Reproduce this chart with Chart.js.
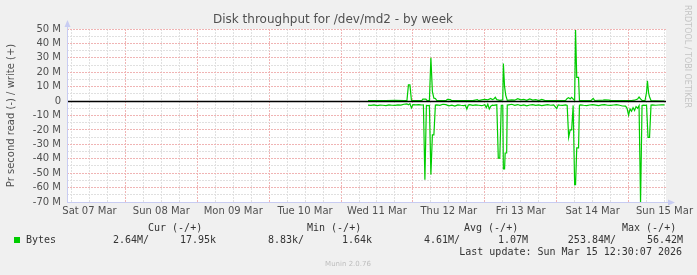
<!DOCTYPE html>
<html>
<head>
<meta charset="utf-8">
<script src="https://cdn.jsdelivr.net/npm/chart.js@4.4.1/dist/chart.umd.min.js"></script>
<style>
  html, body { margin: 0; padding: 0; background: #f0f0f0; }
  canvas { display: block; }
</style>
</head>
<body>
<canvas id="chart" width="697" height="275"></canvas>
<script>
// hours since Sat 07 Mar 00:00, values in MB/s
const dayLabels = ['Sat 07 Mar', 'Sun 08 Mar', 'Mon 09 Mar', 'Tue 10 Mar', 'Wed 11 Mar',
                   'Thu 12 Mar', 'Fri 13 Mar', 'Sat 14 Mar', 'Sun 15 Mar'];
const dayNoonHours = [12, 36, 60, 84, 108, 132, 156, 180, 204];
const yTickValues = [-70, -65, -60, -55, -50, -45, -40, -35, -30, -25, -20, -15, -10, -5,
                     0, 5, 10, 15, 20, 25, 30, 35, 40, 45, 50];

// read (drawn negative)
const readHours = [
  105, 106, 107, 108, 109, 110, 111, 112, 113, 114, 115, 116, 117, 118, 118.5, 119, 119.5, 120, 121, 122, 123, 123.5,
  124, 124.5, 125, 125.5, 126, 126.5, 127, 127.5,
  128, 129, 130, 131, 132, 133, 134, 135, 136, 137, 137.5, 138, 138.5, 139, 140, 141, 142, 143, 144, 144.5, 145, 145.5, 146, 146.5, 147, 148,
  148.5, 149, 149.5, 150, 150.2, 150.6, 150.8, 151.3, 151.5,
  152, 153, 154, 155, 156, 157, 158, 159, 160, 161, 162, 163, 164, 165, 166, 167, 168, 168.5, 169, 170, 171, 171.5,
  172, 172.5, 173, 173.5, 174, 174.3, 174.7, 175.3, 175.6,
  176, 177, 178, 179, 180, 181, 182, 183, 184, 185, 186, 187, 188, 189, 190, 191, 191.5, 192, 192.5, 193, 193.5, 194, 194.5, 195, 195.5,
  196, 196.5, 197, 197.5, 198, 198.5, 199, 199.5, 200, 201, 202, 203, 204
];
const readMB = [
  -2.8, -3.0, -2.7, -3.1, -2.8, -2.9, -3.2, -2.7, -2.9, -3.0, -2.6, -2.8, -2.2, -2.0, -2.5, -1.8, -4.8, -2.5, -2.6, -2.4, -2.7, -2.6,
  -54.5, -3.0, -3.2, -3.0, -51, -23.5, -23.5, -2.8,
  -2.6, -3.0, -2.2, -2.5, -3.3, -2.8, -3.5, -2.6, -2.9, -3.1, -2.9, -5.5, -2.7, -2.5, -3.0, -2.6, -2.9, -3.2, -2.5, -4.5, -2.2, -5.5, -3.5, -2.8, -3.0, -2.6,
  -39.5, -39.5, -3.0, -3.0, -47, -47, -36, -36, -2.8,
  -2.6, -2.2, -2.9, -2.4, -3.1, -2.6, -3.3, -2.7, -2.5, -3.0, -2.6, -3.2, -2.8, -2.5, -2.9, -2.7, -5.2, -2.6, -2.8, -3.0, -2.7, -3.0,
  -25.2, -20, -20, -3.0, -58, -58, -32.4, -32.4, -2.8,
  -2.6, -2.9, -3.1, -2.7, -2.5, -2.8, -3.2, -2.6, -2.4, -2.9, -3.0, -2.7, -2.5, -2.9, -3.4, -3.5, -5.0, -9.7, -5.5, -7.0, -4.5, -6.5, -3.8, -5.0, -3.2,
  -70.5, -3.0, -2.8, -3.0, -2.9, -25.2, -25.2, -2.8, -2.6, -2.9, -2.7, -2.6, -2.64
];

// write (drawn positive)
const writeHours = [
  105, 108, 111, 114, 117, 118, 118.5, 119, 119.5, 120, 121, 123, 123.3, 124.3, 124.7, 125, 125.5, 126, 126.5, 127, 127.5, 128,
  131, 131.5, 132.5, 133, 137, 140, 141.5, 142, 143, 144, 145, 146, 146.5, 147, 147.5, 148, 149, 150, 150.2, 150.6, 151, 151.5,
  153, 154, 155, 156, 157, 158, 159, 160, 161, 162, 163, 164, 165, 167, 169, 171, 171.5, 172, 172.5, 173, 173.5, 174, 174.3, 174.7, 175.3, 175.6,
  177, 179.5, 180.2, 180.7, 183.5, 184, 185.5, 186, 189, 193, 194, 195, 195.5, 196, 196.5, 197.5, 198, 198.3, 198.7, 199, 199.5, 201, 204
];
const writeMB = [
  0.3, 0.4, 0.3, 0.5, 0.3, 0.3, 11.2, 11.2, 0.5, 0.3, 0.4, 0.4, 1.4, 1.4, 0.4, 0.3, 0.4, 30, 6.5, 2.0, 1.8, 0.3,
  0.3, 1.2, 1.0, 0.3, 0.4, 0.3, 1.0, 0.3, 0.8, 1.2, 0.9, 1.8, 1.0, 1.5, 2.6, 1.0, 0.5, 0.8, 26, 10, 4, 0.5,
  0.9, 0.6, 1.6, 0.8, 1.2, 0.5, 1.5, 0.7, 1.0, 0.4, 1.2, 0.5, 0.3, 0.4, 0.3, 0.5, 1.8, 2.4, 1.5, 2.6, 1.4, 0.5, 49.3, 16.4, 16.4, 0.3,
  0.3, 0.4, 1.9, 0.4, 0.7, 0.8, 0.7, 0.3, 0.4, 0.4, 0.6, 1.4, 2.8, 1.5, 0.4, 0.4, 6, 14, 5.5, 3, 0.3, 0.2, 0.05
];

const legendHeaders = ['Cur (-/+)', 'Min (-/+)', 'Avg (-/+)', 'Max (-/+)'];
const legendValues = ['2.64M/', '17.95k', '8.83k/', '1.64k', '4.61M/', '1.07M', '253.84M/', '56.42M'];
const lastUpdate = 'Last update: Sun Mar 15 12:30:07 2026';

const GREEN = '#00cc00';
const TEXT = '#505050';
const RED_GRID = '#f0b4b4';
const GREY_GRID = '#e0e0e0';

Chart.defaults.font.family = '"DejaVu Sans", sans-serif';

function gridColor(c, step) {
  const v = c.tick ? c.tick.value : 1;
  return Math.abs(v % step) < 1e-6 ? RED_GRID : GREY_GRID;
}

// frame, zero line, axis arrows, legend text
const muninFrame = {
  id: 'muninFrame',
  beforeDraw(chart) {
    const { ctx, chartArea: a } = chart;
    ctx.save();
    ctx.fillStyle = '#f0f0f0';
    ctx.fillRect(0, 0, chart.width, chart.height);
    ctx.fillStyle = '#ffffff';
    ctx.fillRect(a.left, a.top, a.right - a.left, a.bottom - a.top);
    ctx.restore();
  },
  afterDatasetsDraw(chart) {
    const { ctx, chartArea: a } = chart;
    const y0 = Math.round(chart.scales.y.getPixelForValue(0));
    ctx.save();
    ctx.strokeStyle = '#000';
    ctx.lineWidth = 1.5;
    ctx.beginPath();
    ctx.moveTo(a.left, y0 + 0.5);
    ctx.lineTo(a.right, y0 + 0.5);
    ctx.stroke();
    ctx.restore();
  },
  afterDraw(chart) {
    const { ctx, chartArea: a } = chart;
    ctx.save();
    // axes with arrows
    ctx.strokeStyle = '#c8ccf2';
    ctx.fillStyle = '#c8ccf2';
    ctx.lineWidth = 1;
    ctx.beginPath();
    ctx.moveTo(a.left + 0.5, a.bottom);
    ctx.lineTo(a.left + 0.5, a.top - 4);
    ctx.moveTo(a.left, a.bottom + 0.5);
    ctx.lineTo(a.right + 4, a.bottom + 0.5);
    ctx.stroke();
    ctx.beginPath();
    ctx.moveTo(a.left + 0.5, a.top - 9);
    ctx.lineTo(a.left - 2.5, a.top - 2);
    ctx.lineTo(a.left + 3.5, a.top - 2);
    ctx.closePath();
    ctx.fill();
    ctx.beginPath();
    ctx.moveTo(a.right + 9, a.bottom + 0.5);
    ctx.lineTo(a.right + 2, a.bottom - 2.5);
    ctx.lineTo(a.right + 2, a.bottom + 3.5);
    ctx.closePath();
    ctx.fill();

    // rrdtool credit
    ctx.translate(687, 5);
    ctx.rotate(Math.PI / 2);
    ctx.font = '8px "DejaVu Sans"';
    ctx.fillStyle = '#c4c4c4';
    ctx.textBaseline = 'middle';
    ctx.textAlign = 'left';
    ctx.fillText('RRDTOOL / TOBI OETIKER', 0, 0);
    ctx.restore();

    // legend
    ctx.save();
    ctx.font = '10px "DejaVu Sans Mono"';
    ctx.fillStyle = '#333';
    ctx.textBaseline = 'middle';
    const headerX = [148, 307, 464, 622];
    legendHeaders.forEach((h, i) => ctx.fillText(h, headerX[i], 228));
    ctx.fillStyle = GREEN;
    ctx.fillRect(14, 237, 6, 6);
    ctx.fillStyle = '#333';
    ctx.fillText('Bytes', 26, 240);
    ctx.textAlign = 'right';
    const valueRight = [149, 216, 304, 372, 460, 528, 616, 683];
    legendValues.forEach((v, i) => ctx.fillText(v, valueRight[i], 240));
    ctx.fillText(lastUpdate, 682, 252);
    ctx.textAlign = 'center';
    ctx.font = '7px "DejaVu Sans"';
    ctx.fillStyle = '#bdbdbd';
    ctx.fillText('Munin 2.0.76', 348, 264);
    ctx.restore();
  }
};

const ctx = document.getElementById('chart').getContext('2d');
new Chart(ctx, {
  type: 'line',
  data: {
    datasets: [
      {
        label: 'read',
        data: readHours.map((h, i) => ({ x: h, y: readMB[i] })),
        borderColor: GREEN,
        borderWidth: 1.2,
        pointRadius: 0,
        tension: 0,
        fill: false
      },
      {
        label: 'write',
        data: writeHours.map((h, i) => ({ x: h, y: writeMB[i] })),
        borderColor: GREEN,
        borderWidth: 1.2,
        pointRadius: 0,
        tension: 0,
        fill: false
      }
    ]
  },
  options: {
    responsive: false,
    devicePixelRatio: 1,
    animation: false,
    layout: { padding: { left: 0, right: 31, top: 0, bottom: 0 } },
    plugins: {
      legend: { display: false },
      tooltip: { enabled: false },
      title: {
        display: true,
        text: 'Disk throughput for /dev/md2 - by week',
        color: TEXT,
        font: { size: 12, weight: 'normal' },
        padding: { top: 13, bottom: 1.6 }
      }
    },
    scales: {
      x: {
        type: 'linear',
        min: 4.5,
        max: 204.5,
        afterBuildTicks: s => {
          const t = [];
          for (let h = 6; h <= 204; h += 6) t.push({ value: h });
          s.ticks = t;
        },
        afterFit: s => { s.height = 73; },
        ticks: {
          autoSkip: false,
          maxRotation: 0,
          padding: 3,
          color: TEXT,
          font: { size: 10 },
          callback: v => {
            const i = dayNoonHours.indexOf(v);
            return i >= 0 ? dayLabels[i] : '';
          }
        },
        grid: {
          drawTicks: false,
          lineWidth: 1,
          color: c => gridColor(c, 24)
        },
        border: { display: false, dash: [2, 1] }
      },
      y: {
        min: -70,
        max: 50,
        afterBuildTicks: s => { s.ticks = yTickValues.map(v => ({ value: v })); },
        afterFit: s => { s.width = 67; },
        ticks: {
          autoSkip: false,
          padding: 6,
          color: TEXT,
          font: { size: 10 },
          callback: v => v % 10 === 0 ? (v === 0 ? '0' : v + ' M') : ''
        },
        grid: {
          drawTicks: false,
          lineWidth: 1,
          color: c => gridColor(c, 10)
        },
        border: { display: false, dash: [2, 1] },
        title: {
          display: true,
          text: 'Pr second read (-) / write (+)',
          color: TEXT,
          font: { size: 10 },
          padding: { top: 5, bottom: 0 }
        }
      }
    }
  },
  plugins: [muninFrame]
});
</script>
</body>
</html>
